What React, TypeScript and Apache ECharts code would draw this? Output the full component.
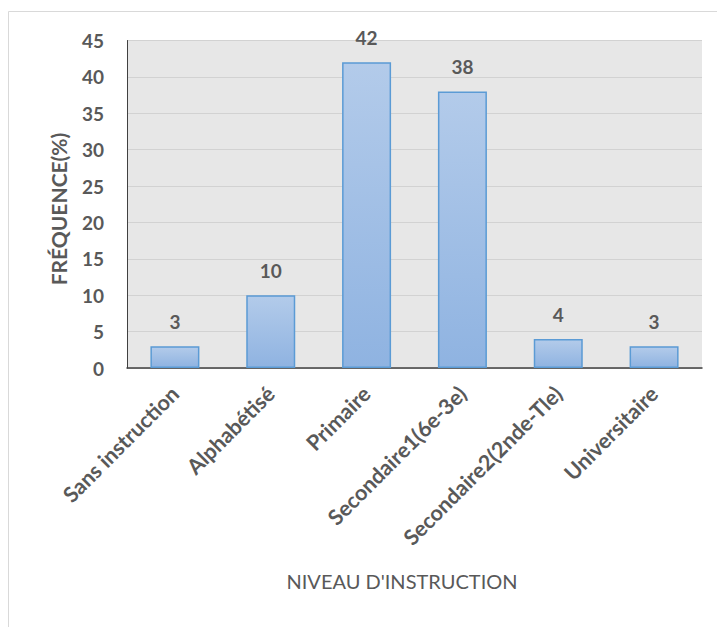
import React, { useEffect, useRef } from "react";
import * as echarts from "echarts";

const categories = [
  "Sans instruction",
  "Alphabétisé",
  "Primaire",
  "Secondaire1(6e-3e)",
  "Secondaire2(2nde-Tle)",
  "Universitaire",
];
const frequencies = [3, 10, 42, 38, 4, 3];
const yTitle = "FRÉQUENCE(%)";
const xTitle = "NIVEAU D'INSTRUCTION";

const FONT = "Lato, 'Open Sans', sans-serif";

export default function App() {
  const ref = useRef<HTMLDivElement>(null);
  useEffect(() => {
    if (!ref.current) return;
    const chart = echarts.init(ref.current, null, { renderer: "svg" });
    chart.setOption({
      animation: false,
      backgroundColor: "#ffffff",
      textStyle: { fontFamily: FONT },
      graphic: [
        {
          type: "rect",
          shape: { x: 8.5, y: 11.5, width: 760, height: 680 },
          style: { fill: "none", stroke: "#d9d9d9", lineWidth: 1 },
          silent: true,
          z: -10,
        },
        {
          type: "text",
          x: 402,
          y: 581,
          style: {
            text: xTitle,
            fontFamily: FONT,
            fontSize: 20,
            fill: "#595959",
            align: "center",
            verticalAlign: "middle",
          },
        },
        {
          type: "text",
          x: 58,
          y: 209,
          rotation: Math.PI / 2,
          style: {
            text: yTitle,
            fontFamily: FONT,
            fontSize: 21,
            fontWeight: "bold",
            fill: "#595959",
            align: "center",
            verticalAlign: "middle",
          },
        },
      ],
      grid: {
        left: 127,
        top: 40.5,
        right: 15,
        bottom: 259,
        show: true,
        backgroundColor: "#e7e7e7",
        borderWidth: 0,
      },
      xAxis: {
        type: "category",
        data: categories,
        axisLine: { show: true, lineStyle: { color: "#404040", width: 1.5 } },
        axisTick: { show: false },
        axisLabel: {
          interval: 0,
          rotate: 45,
          margin: 22,
          fontSize: 21.5,
          fontWeight: "bold",
          color: "#595959",
          fontFamily: FONT,
        },
      },
      yAxis: {
        type: "value",
        min: 0,
        max: 45,
        interval: 5,
        axisLine: { show: true, lineStyle: { color: "#404040", width: 1 } },
        axisTick: { show: false },
        axisLabel: {
          margin: 23,
          fontSize: 19,
          fontWeight: "bold",
          color: "#595959",
          fontFamily: FONT,
        },
        splitLine: { show: true, lineStyle: { color: "#d2d2d2", width: 1.2 } },
      },
      series: [
        {
          type: "bar",
          data: frequencies,
          barWidth: 49,
          itemStyle: {
            color: new echarts.graphic.LinearGradient(0, 0, 0, 1, [
              { offset: 0, color: "#b3cbea" },
              { offset: 1, color: "#8fb3e1" },
            ]),
            borderColor: "#5b9bd5",
            borderWidth: 1.5,
          },
          label: {
            show: true,
            position: "top",
            distance: 15,
            fontSize: 19,
            fontWeight: "bold",
            color: "#595959",
            fontFamily: FONT,
          },
        },
      ],
    });
    return () => chart.dispose();
  }, []);
  return (
    <div
      ref={ref}
      style={{ position: "absolute", left: 0, top: 0, width: 717, height: 627 }}
    />
  );
}
